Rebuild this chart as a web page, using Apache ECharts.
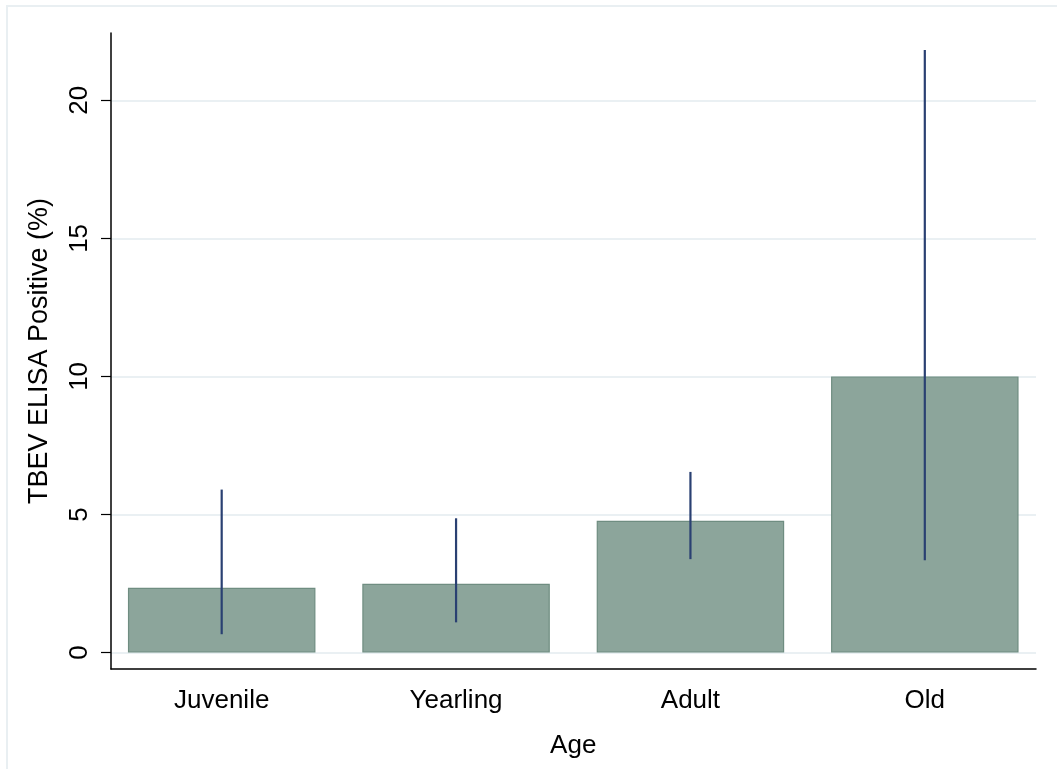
<!DOCTYPE html>
<html>
<head>
<meta charset="utf-8">
<script src="https://cdn.jsdelivr.net/npm/echarts@6/dist/echarts.min.js"></script>
<style>
  html, body { margin: 0; padding: 0; background: #ffffff; }
  #chart { width: 1057px; height: 769px; }
</style>
</head>
<body>
<div id="chart"></div>
<script>
// Age groups and seroprevalence (%) with 95% confidence limits
const ageGroups = ['Juvenile', 'Yearling', 'Adult', 'Old'];
const positivePct = [2.34, 2.49, 4.77, 10.0];
const ciLower = [0.66, 1.09, 3.38, 3.34];
const ciUpper = [5.90, 4.86, 6.54, 21.82];
const yTicks = [0, 5, 10, 15, 20];

const FONT = '"Liberation Sans", Arial, Helvetica, sans-serif';
const Y_MIN = -0.6;
const Y_MAX = 22.44;

const chart = echarts.init(document.getElementById('chart'), null, { renderer: 'canvas' });

const ciData = ageGroups.map((g, i) => [i, ciLower[i], ciUpper[i]]);

chart.setOption({
  animation: false,
  backgroundColor: '#ffffff',
  textStyle: { fontFamily: FONT },
  graphic: [{
    type: 'rect',
    shape: { x: 7, y: 6, width: 1100, height: 820 },
    style: { fill: 'none', stroke: '#e9eff2', lineWidth: 2 },
    silent: true,
    z: -10
  }],
  grid: [
    // frame grid: axis lines, ticks and gridlines
    { left: 111, right: 21, top: 33, bottom: 100, containLabel: false },
    // plotting grid: categories and marks
    { left: 104.5, right: 15, top: 33, bottom: 100, containLabel: false }
  ],
  xAxis: [
    {
      gridIndex: 0, type: 'value', min: 0, max: 1,
      axisLine: { show: true, onZero: false, lineStyle: { color: '#000000', width: 1.5 } },
      axisTick: { show: false }, axisLabel: { show: false }, splitLine: { show: false }
    },
    {
      gridIndex: 1, type: 'category', data: ageGroups, boundaryGap: true,
      axisLine: { show: false }, axisTick: { show: false }, splitLine: { show: false },
      axisLabel: { color: '#000000', fontSize: 26, fontFamily: FONT, margin: 19 },
      name: 'Age', nameLocation: 'middle', nameGap: 64,
      nameTextStyle: { color: '#000000', fontSize: 26, fontFamily: FONT }
    }
  ],
  yAxis: [
    {
      gridIndex: 0, type: 'value', min: Y_MIN, max: Y_MAX,
      axisLine: { show: true, onZero: false, lineStyle: { color: '#000000', width: 1.5 } },
      axisTick: { show: true, length: 10, customValues: yTicks, lineStyle: { color: '#000000', width: 1.2 } },
      axisLabel: {
        show: true, customValues: yTicks, rotate: 90, margin: 18,
        color: '#000000', fontSize: 26, fontFamily: FONT
      },
      splitLine: { show: true, customValues: yTicks, lineStyle: { color: '#eaf0f3', width: 2 } },
      name: 'TBEV ELISA Positive (%)', nameLocation: 'middle', nameGap: 58, nameRotate: 90,
      nameTextStyle: { color: '#000000', fontSize: 27, fontFamily: FONT }
    },
    {
      gridIndex: 1, type: 'value', min: Y_MIN, max: Y_MAX,
      axisLine: { show: false }, axisTick: { show: false },
      axisLabel: { show: false }, splitLine: { show: false }
    }
  ],
  series: [
    {
      type: 'bar',
      xAxisIndex: 1, yAxisIndex: 1,
      data: positivePct,
      barCategoryGap: '20%',
      itemStyle: { color: '#8ca59b', borderColor: '#6f8d81', borderWidth: 1.2 },
      z: 2
    },
    {
      type: 'custom',
      xAxisIndex: 1, yAxisIndex: 1,
      data: ciData,
      encode: { x: 0, y: [1, 2] },
      renderItem: function (params, api) {
        const lo = api.coord([api.value(0), api.value(1)]);
        const hi = api.coord([api.value(0), api.value(2)]);
        return {
          type: 'line',
          shape: { x1: lo[0], y1: lo[1], x2: hi[0], y2: hi[1] },
          style: { stroke: '#2a4072', lineWidth: 2.2 }
        };
      },
      z: 3
    }
  ]
});
</script>
</body>
</html>
